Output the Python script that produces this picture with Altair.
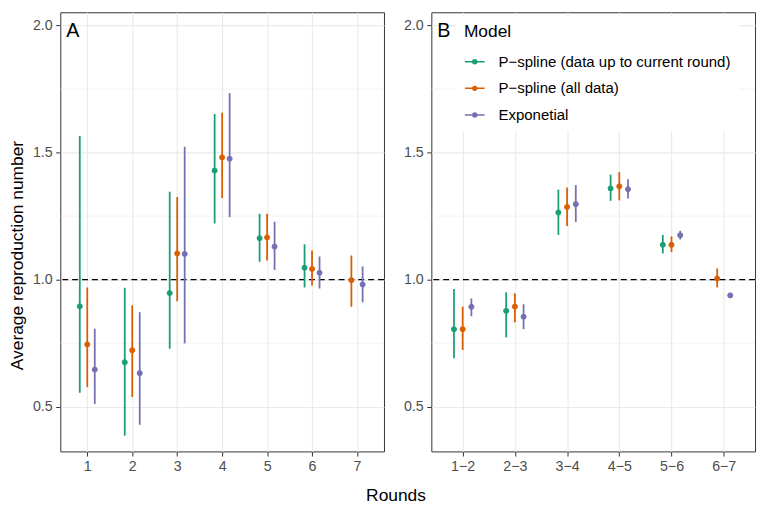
import json
import altair as alt
import pandas as pd

models = ["P\u2212spline (data up to current round)", "P\u2212spline (all data)", "Exponetial"]
colors = ["#1B9E77", "#D95F02", "#7570B3"]

rounds_a = ["1", "2", "3", "4", "5", "6", "7"]
rounds_b = ["1\u22122", "2\u22123", "3\u22124", "4\u22125", "5\u22126", "6\u22127"]

# Panel A
a_cur_est = [0.895, 0.675, 0.947, 1.429, 1.163, 1.047, None]
a_cur_lo = [0.555, 0.386, 0.728, 1.221, 1.070, 0.969, None]
a_cur_hi = [1.565, 0.968, 1.346, 1.652, 1.259, 1.139, None]
a_all_est = [0.745, 0.722, 1.103, 1.481, 1.166, 1.042, 0.998]
a_all_lo = [0.577, 0.538, 0.915, 1.321, 1.075, 0.977, 0.893]
a_all_hi = [0.969, 0.899, 1.325, 1.657, 1.259, 1.115, 1.095]
a_exp_est = [0.646, 0.632, 1.101, 1.476, 1.130, 1.027, 0.981]
a_exp_lo = [0.511, 0.429, 0.749, 1.246, 1.038, 0.965, 0.911]
a_exp_hi = [0.807, 0.872, 1.523, 1.734, 1.228, 1.091, 1.052]

# Panel B
b_cur_est = [0.805, 0.877, 1.264, 1.359, 1.137, None]
b_cur_lo = [0.691, 0.773, 1.176, 1.310, 1.103, None]
b_cur_hi = [0.963, 0.950, 1.354, 1.413, 1.176, None]
b_all_est = [0.805, 0.894, 1.286, 1.367, 1.137, 1.004]
b_all_lo = [0.723, 0.832, 1.211, 1.312, 1.108, 0.969]
b_all_hi = [0.894, 0.946, 1.363, 1.423, 1.170, 1.044]
b_exp_est = [0.893, 0.854, 1.297, 1.356, 1.175, 0.938]
b_exp_lo = [0.856, 0.805, 1.227, 1.319, 1.158, 0.935]
b_exp_hi = [0.926, 0.903, 1.372, 1.395, 1.192, 0.941]

y_ticks = [0.5, 1.0, 1.5, 2.0]
y_minor = [0.75, 1.25, 1.75]


def build(rounds, series):
    rows = []
    for model, (est, lo, hi) in zip(models, series):
        for r, e, l, h in zip(rounds, est, lo, hi):
            if e is not None:
                rows.append({"Round": r, "Model": model, "est": e, "lo": l, "hi": h})
    return pd.DataFrame(rows)


df_a = build(rounds_a, [(a_cur_est, a_cur_lo, a_cur_hi), (a_all_est, a_all_lo, a_all_hi), (a_exp_est, a_exp_lo, a_exp_hi)])
df_b = build(rounds_b, [(b_cur_est, b_cur_lo, b_cur_hi), (b_all_est, b_all_lo, b_all_hi), (b_exp_est, b_exp_lo, b_exp_hi)])

FONT = "Liberation Sans"

legend = alt.Legend(
    title="Model", orient="none", legendX=401, legendY=3.5, fillColor="white", padding=8,
    symbolType="M-1,0H1M-0.2,0A0.2,0.2,0,1,1,0.2,0A0.2,0.2,0,1,1,-0.2,0Z",
    symbolSize=400, symbolStrokeWidth=1.5, titleFontSize=17.6, titleFontWeight="normal",
    titleColor="black", titlePadding=10, labelFontSize=15.2, labelColor="black",
    rowPadding=7, labelOffset=13, titleFont=FONT, labelFont=FONT, labelLimit=0,
)
cscale = alt.Scale(domain=models, range=colors)
yscale = alt.Scale(domain=[0.324, 2.052], nice=False, zero=False)


def panel(df, rounds, tag, ytitle):
    n = len(rounds)
    xaxis = alt.Axis(values=list(range(1, n + 1)),
                     labelExpr=json.dumps(rounds, ensure_ascii=False) + "[datum.value - 1]",
                     title=None, grid=True)
    yaxis = alt.Axis(values=y_ticks, format=".1f", title=ytitle, grid=True, titleY=246)
    xscale = alt.Scale(domain=[0.4, n + 0.6], nice=False, zero=False)
    base = alt.Chart(df).transform_calculate(
        ri="indexof(" + json.dumps(rounds, ensure_ascii=False) + ", datum.Round) + 1",
        mi="indexof(" + json.dumps(models, ensure_ascii=False) + ", datum.Model)",
    ).transform_joinaggregate(
        n="count()", groupby=["Round"]
    ).transform_window(
        k="row_number()", groupby=["Round"], sort=[alt.SortField("mi")]
    ).transform_calculate(
        xpos="datum.ri + (datum.k - (datum.n + 1) / 2) * 0.5 / datum.n"
    )
    x = alt.X("xpos:Q", scale=xscale, axis=xaxis)
    minor = alt.Chart(pd.DataFrame({"v": y_minor})).mark_rule(color="#EBEBEB", strokeWidth=0.6).encode(
        y=alt.Y("v:Q", scale=yscale, axis=yaxis))
    ref = alt.Chart(pd.DataFrame({"v": [1.0]})).mark_rule(color="black", strokeWidth=1.2, strokeDash=[6, 4]).encode(
        y=alt.Y("v:Q", scale=yscale, axis=yaxis))
    rules = base.mark_rule(strokeWidth=1.8).encode(
        x=x, y=alt.Y("lo:Q", scale=yscale, axis=yaxis), y2="hi:Q",
        stroke=alt.Stroke("Model:N", scale=cscale, legend=legend))
    pts = base.mark_point(filled=True, size=26, strokeWidth=1, opacity=1).encode(
        x=x, y=alt.Y("est:Q", scale=yscale, axis=yaxis),
        fill=alt.Fill("Model:N", scale=cscale, legend=legend),
        stroke=alt.Stroke("Model:N", scale=cscale, legend=legend))
    txt = alt.Chart(pd.DataFrame({"t": [tag]})).mark_text(
        align="left", baseline="alphabetic", fontSize=20, font=FONT, color="black").encode(
        text="t:N", x=alt.value(6), y=alt.value(25))
    return alt.layer(minor, ref, rules, pts, txt).properties(width=328, height=445)


pa = panel(df_a, rounds_a, "A", "Average reproduction number")
pb = panel(df_b, rounds_b, "B", None)

chart = alt.hconcat(pa, pb, spacing=17).properties(
    padding=0,
    title=alt.TitleParams("Rounds", orient="bottom", anchor="middle", fontSize=17.6,
                          fontWeight="normal", color="black", dx=14, offset=14, font=FONT),
).configure(font=FONT).configure_view(stroke="#333333", strokeWidth=1).configure_axis(
    domain=False, tickColor="#333333", tickSize=4.7, tickWidth=1, labelColor="#4D4D4D",
    labelFontSize=14.4, labelPadding=3.5, gridColor="#EBEBEB", gridWidth=1.2,
    titleFontSize=17.6, titleFontWeight="normal", titleColor="black", titlePadding=6,
    labelFont=FONT, titleFont=FONT,
)

chart.save("out.html", embed_options={"renderer": "svg", "actions": False})
